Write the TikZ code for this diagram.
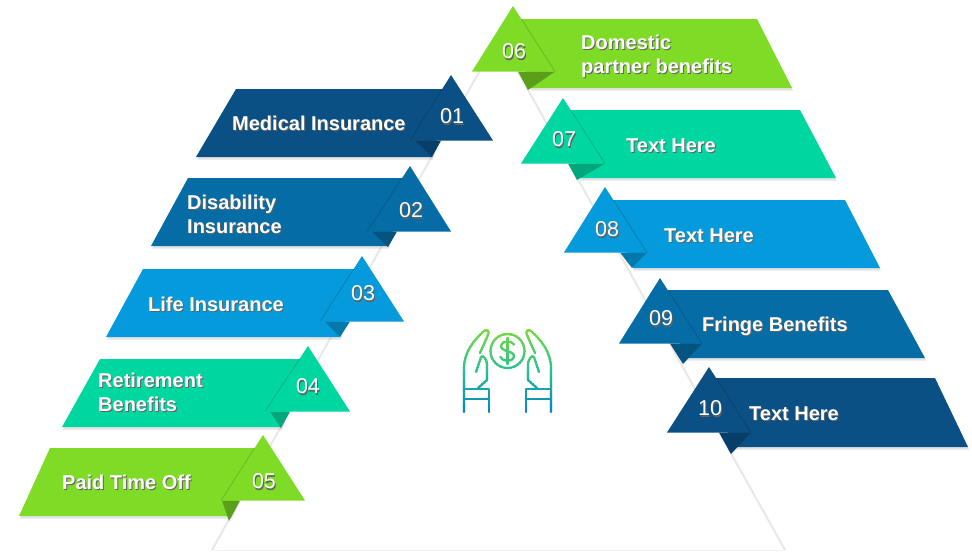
\documentclass[tikz,border=0pt]{standalone}
\usepackage{fontspec}
\setmainfont{Liberation Sans}
\usetikzlibrary{shadows,calc}
\definecolor{navy}{HTML}{0B5084}\definecolor{navyD}{HTML}{083F68}
\definecolor{midb}{HTML}{066CA6}\definecolor{midbD}{HTML}{05537F}
\definecolor{sky}{HTML}{059ADB}\definecolor{skyD}{HTML}{0478AB}
\definecolor{mint}{HTML}{00D7A0}\definecolor{mintD}{HTML}{00A67C}
\definecolor{lime}{HTML}{7FDC26}\definecolor{limeD}{HTML}{5A9E1A}
\definecolor{icG}{HTML}{7FDB3A}\definecolor{icT}{HTML}{25BF95}\definecolor{icB}{HTML}{0580C8}
\newcommand{\sh}[1]{\leavevmode\rlap{\kern1pt\raisebox{-1.2pt}{\textcolor{black!62}{#1}}}#1}
\tikzset{
  ribbon/.style={draw=none,drop shadow={opacity=.22,shadow xshift=1pt,shadow yshift=-2.5pt}},
  fold/.style={draw=none},
  seam/.style={draw=black,draw opacity=.16,line width=.8pt},
  lbl/.style={font=\fontsize{20}{24}\selectfont\bfseries,text=white,align=left,anchor=west,inner sep=0pt},
  num/.style={font=\fontsize{21.5}{24}\selectfont,text=white,inner sep=0pt},
  icon/.style={line width=2.2pt,line cap=round,line join=round},
}
\newcommand{\handglyph}{%
  \draw[icon] (464,412) -- (464,368) .. controls (464,352) and (474,340) .. (484,331)
    .. controls (487,329) and (490,331) .. (488,335) -- (480,353);
  \draw[icon] (476,372) -- (481,357) .. controls (483,354) and (487,360) .. (487,364)
    -- (487,380) -- (478,388);
  \draw[icon] (464,389) -- (489,389) -- (489,412);
  \draw[icon] (464,399) -- (489,399);
}
\newcommand{\iconglyph}{%
  \handglyph
  \begin{scope}[xshift=1015pt,xscale=-1]\handglyph\end{scope}
  \draw[icon] (507.5,351) circle[radius=17];
  \draw[icon] (514,344.5) .. controls (512,340.5) and (502,340) .. (501,345.5)
     .. controls (500,352) and (515,350) .. (514,357) .. controls (513,362) and (502,362) .. (500.5,357);
  \draw[icon] (507.5,338) -- (507.5,364);
}
\begin{document}
\begin{tikzpicture}[x=1pt,y=-1pt]
\useasboundingbox (0,0) rectangle (972,552);
% central pyramid
\coordinate (pa) at (498.5,37);
\coordinate (pl) at (212,550);
\coordinate (pr) at (785,550);
\draw[draw=black!9,line width=2pt,line join=round,fill=white] (pl) -- (pa) -- (pr);
\draw[draw=black!5,line width=1pt] (pl) -- (pr);
% ribbons
\foreach \c/\d/\ax/\ay/\lx/\rx/\by/\ty/\pa/\pb/\pc/\pd/\fa/\fb/\fx/\fy/\side in {
  navy/navyD/451/75/410/493/89/157/236/451/432/196/415/441/432/157/0,
  midb/midbD/410/166/367/451/178/246/188/410/388/151/372/397/388/247/0,
  sky/skyD/362/256/320/404/269/337/143/362/340/106/325/350/340/337/0,
  mint/mintD/308/346/265/350/359/427/100/308/281/62/270/290/281/428/0,
  lime/limeD/263/435/221/305/448/516/50/263/231/19/222/240/229/521/0,
  lime/limeD/513/6/472/555/19/88/513/757/792/530/518/555/528/90/1,
  mint/mintD/563/98/521/605/110/178/563/800/836/579/568/605/577/180/1,
  sky/skyD/605/187/564/647/200/268/605/845/880/633/620/647/632/268/1,
  midb/midbD/660/278/619/702/290/358/660/888/925/685/670/702/683/364/1,
  navy/navyD/709/367/667/751/378/447/709/935/968/733/719/751/731/454/1}
{
  \fill[ribbon,fill=\c] (\pa,\by) -- (\pb,\by) -- (\pc,\ty) -- (\pd,\ty) -- cycle;
  \fill[fold,fill=\d] (\fa,\ay+65.5) -- (\fb,\ay+65.5) -- (\fx,\fy) -- cycle;
  \fill[fill=\c] (\ax,\ay) -- (\lx,\ay+65.5) -- (\rx,\ay+65.5) -- cycle;
  \pgfmathsetmacro\sfr{(\by-\ay)/65.5}
  \ifnum\side=0
    \draw[seam] ({\ax+(\lx-\ax)*\sfr},\by) -- (\lx,\ay+65.5);
  \else
    \draw[seam] ({\ax+(\rx-\ax)*\sfr},\by) -- (\rx,\ay+65.5);
  \fi
}
% numbers
\node[num] (n01) at (452,117) {\sh{01}};
\node[num] (n02) at (411,211) {\sh{02}};
\node[num] (n03) at (363,294) {\sh{03}};
\node[num] (n04) at (308,387) {\sh{04}};
\node[num] (n05) at (264,482) {\sh{05}};
\node[num] (n06) at (514,52) {\sh{06}};
\node[num] (n07) at (564,140) {\sh{07}};
\node[num] (n08) at (607,230) {\sh{08}};
\node[num] (n09) at (661,319) {\sh{09}};
\node[num] (n10) at (710,409) {\sh{10}};
% labels
\node[lbl] (t01) at (232,124) {\sh{Medical Insurance}};
\node[lbl] (t02) at (187,214.5) {\sh{Disability}\\\sh{Insurance}};
\node[lbl] (t03) at (148,304.5) {\sh{Life Insurance}};
\node[lbl] (t04) at (98,392.5) {\sh{Retirement}\\\sh{Benefits}};
\node[lbl] (t05) at (62,482.5) {\sh{Paid Time Off}};
\node[lbl] (t06) at (581,57) {\sh{Domestic}\\\sh{partner benefits}};
\node[lbl] (t07) at (626,146.5) {\sh{Text Here}};
\node[lbl] (t08) at (664,236.5) {\sh{Text Here}};
\node[lbl] (t09) at (702,327) {\sh{Fringe Benefits}};
\node[lbl] (t10) at (749,414.5) {\sh{Text Here}};
% central icon: stroke colour graded from top to bottom by clipped slices
\foreach \k in {0,...,44}{
  \pgfmathtruncatemacro{\pcnt}{\k<22 ? 100-\k*100/22 : 100-(\k-22)*100/22}
  \ifnum\k<22 \colorlet{icnow}{icG!\pcnt!icT}\else\colorlet{icnow}{icT!\pcnt!icB}\fi
  \begin{scope}
    \clip (450,327+\k*2) rectangle (565,329.1+\k*2);
    \begin{scope}[color=icnow]
      \iconglyph
    \end{scope}
  \end{scope}
}
\end{tikzpicture}
\end{document}
